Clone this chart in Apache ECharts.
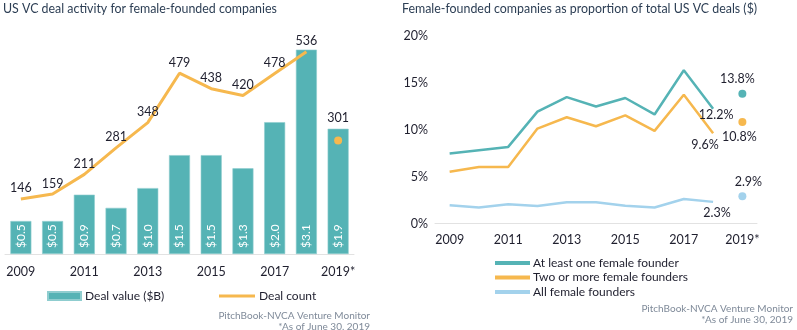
<!DOCTYPE html>
<html>
<head>
<meta charset="utf-8">
<script src="https://cdn.jsdelivr.net/npm/echarts@6/dist/echarts.min.js"></script>
<style>
  html, body { margin: 0; padding: 0; background: #ffffff; }
  #chart { width: 797px; height: 330px; }
</style>
</head>
<body>
<div id="chart"></div>
<script>
// Years shown on both charts; 2019 is a partial year
const years = ['2009', '2010', '2011', '2012', '2013', '2014', '2015', '2016', '2017', '2018', '2019*'];

// Left chart: deal value ($B) and deal count
const dealValue = [0.5, 0.5, 0.9, 0.7, 1.0, 1.5, 1.5, 1.3, 2.0, 3.1, 1.9];
const dealCount = [146, 159, 211, 281, 348, 479, 438, 420, 478, 536, 301];

// Right chart: share of total US VC deal value (%)
const atLeastOne = [7.45, 7.8, 8.15, 11.9, 13.45, 12.45, 13.35, 11.6, 16.3, 12.2, 13.8];
const twoOrMore = [5.5, 6.0, 6.0, 10.1, 11.3, 10.35, 11.5, 9.85, 13.7, 9.6, 10.8];
const allFemale = [1.95, 1.7, 2.05, 1.85, 2.25, 2.25, 1.9, 1.7, 2.6, 2.3, 2.9];

const pctTicks = [0, 5, 10, 15, 20];

const TEAL = '#55b3b5';
const ORANGE = '#f6b84e';
const LIGHTBLUE = '#a3d2ec';
const TEXT = '#1f1f2e';
const TITLE = '#2c3e54';
const NOTE = '#7f8a99';
const FONT = 'Lato, "Open Sans", sans-serif';

const last = years.length - 1;

// Full-year portion drawn as connected lines; partial 2019 drawn as a dot
const lineUntil2018 = arr => arr.map((v, i) => (i < last ? v : '-'));
const dotOnly2019 = arr => arr.map((v, i) => (i === last ? v : '-'));

function lineWithEndLabel(arr, labelCfg) {
  return lineUntil2018(arr).map((v, i) => {
    if (i === last - 1) {
      return { value: v, label: Object.assign({ show: true, formatter: v.toFixed(1) + '%' }, labelCfg) };
    }
    return v;
  });
}
function dotWithLabel(arr, labelCfg) {
  return dotOnly2019(arr).map((v, i) => {
    if (i === last) {
      return { value: v, label: Object.assign({ show: true, formatter: v.toFixed(1) + '%' }, labelCfg) };
    }
    return v;
  });
}

const chart = echarts.init(document.getElementById('chart'), null, { renderer: 'canvas' });

const pctLabelStyle = { color: TEXT, fontSize: 12.5, fontFamily: FONT };

// invisible point markers so that per-point labels can be drawn on a plain line
const hiddenSymbol = { symbol: 'circle', symbolSize: 0.01, showSymbol: true };

chart.setOption({
  animation: false,
  textStyle: { fontFamily: FONT },
  title: [
    { text: 'US VC deal activity for female-founded companies', left: 3, top: 3, padding: 0,
      textStyle: { fontSize: 12.4, fontWeight: 'normal', color: TITLE, fontFamily: FONT } },
    { text: 'Female-founded companies as proportion of total US VC deals ($)', left: 402, top: 3, padding: 0,
      textStyle: { fontSize: 12.4, fontWeight: 'normal', color: TITLE, fontFamily: FONT } }
  ],
  legend: [
    { data: [{ name: 'Deal value ($B)', icon: 'rect' }], left: 47, top: 290, padding: 0, itemWidth: 33, itemHeight: 8,
      textStyle: { fontSize: 12, color: TEXT, fontFamily: FONT, padding: [0, 0, 0, -1] } },
    { data: [{ name: 'Deal count', icon: 'rect' }], left: 219, top: 290, padding: 0, itemWidth: 36, itemHeight: 3,
      textStyle: { fontSize: 12, color: TEXT, fontFamily: FONT, padding: [0, 0, 0, -1] } },
    { data: [
        { name: 'At least one female founder', icon: 'rect' },
        { name: 'Two or more female founders', icon: 'rect' },
        { name: 'All female founders', icon: 'rect' }
      ],
      orient: 'vertical', left: 495, top: 257, padding: 0, itemWidth: 35, itemHeight: 4, itemGap: 2.5,
      textStyle: { fontSize: 12, lineHeight: 12, color: TEXT, fontFamily: FONT, padding: [0, 0, 0, -2] } }
  ],
  grid: [
    { left: 5, top: 20, width: 349, height: 234 },
    { left: 435, top: 35.5, width: 322, height: 188 }
  ],
  xAxis: [
    { type: 'category', gridIndex: 0, data: years,
      axisLine: { lineStyle: { color: '#e2e2e2', width: 1 } }, axisTick: { show: false },
      axisLabel: { interval: 1, color: TEXT, fontSize: 12.5, margin: 11, fontFamily: FONT } },
    { type: 'category', gridIndex: 1, data: years,
      axisLine: { lineStyle: { color: '#e2e2e2', width: 1 } }, axisTick: { show: false },
      axisLabel: { interval: 1, color: TEXT, fontSize: 12.5, margin: 10, fontFamily: FONT } }
  ],
  yAxis: [
    { type: 'value', gridIndex: 0, min: 0, max: 3.55, show: false },
    { type: 'value', gridIndex: 0, min: 0, max: 620, show: false },
    { type: 'value', gridIndex: 1, min: pctTicks[0], max: pctTicks[pctTicks.length - 1], interval: 5,
      axisLine: { show: false }, axisTick: { show: false }, splitLine: { show: false },
      axisLabel: { formatter: '{value}%', color: TEXT, fontSize: 12.5, margin: 7, fontFamily: FONT } }
  ],
  series: [
    { name: 'Deal value ($B)', type: 'bar', xAxisIndex: 0, yAxisIndex: 0, data: dealValue,
      barWidth: 21, itemStyle: { color: TEAL, borderColor: '#8fcdcf', borderWidth: 0.6 },
      label: { show: true, position: 'insideBottom', rotate: 90, align: 'left', verticalAlign: 'middle',
        distance: 6, color: '#ffffff', fontSize: 12, fontFamily: FONT,
        formatter: p => '$' + p.value.toFixed(1) } },
    Object.assign({ name: 'Deal count', type: 'line', xAxisIndex: 0, yAxisIndex: 1, data: lineUntil2018(dealCount),
      lineStyle: { color: ORANGE, width: 3 }, itemStyle: { color: ORANGE },
      label: { show: true, position: 'top', distance: 4, color: TEXT, fontSize: 12.5, fontFamily: FONT } }, hiddenSymbol),
    { name: 'Deal count', type: 'line', xAxisIndex: 0, yAxisIndex: 1, data: dotOnly2019(dealCount),
      symbol: 'circle', symbolSize: 8, showSymbol: true, lineStyle: { width: 0 }, itemStyle: { color: ORANGE },
      label: { show: true, position: 'top', distance: 12, color: TEXT, fontSize: 12.5, fontFamily: FONT } },

    Object.assign({ name: 'At least one female founder', type: 'line', xAxisIndex: 1, yAxisIndex: 2,
      data: lineWithEndLabel(atLeastOne, Object.assign({ position: 'bottom', distance: 0, offset: [3, 0] }, pctLabelStyle)),
      lineStyle: { color: TEAL, width: 2.5 }, itemStyle: { color: TEAL } }, hiddenSymbol),
    Object.assign({ name: 'Two or more female founders', type: 'line', xAxisIndex: 1, yAxisIndex: 2,
      data: lineWithEndLabel(twoOrMore, Object.assign({ position: 'bottom', distance: 5, offset: [-8, 0] }, pctLabelStyle)),
      lineStyle: { color: ORANGE, width: 2.5 }, itemStyle: { color: ORANGE } }, hiddenSymbol),
    Object.assign({ name: 'All female founders', type: 'line', xAxisIndex: 1, yAxisIndex: 2,
      data: lineWithEndLabel(allFemale, Object.assign({ position: 'bottom', distance: 5, offset: [4, 0] }, pctLabelStyle)),
      lineStyle: { color: LIGHTBLUE, width: 2.5 }, itemStyle: { color: LIGHTBLUE } }, hiddenSymbol),

    { name: 'At least one female founder', type: 'line', xAxisIndex: 1, yAxisIndex: 2,
      data: dotWithLabel(atLeastOne, Object.assign({ position: 'top', distance: 4, offset: [-5, 0] }, pctLabelStyle)),
      symbol: 'circle', symbolSize: 8, showSymbol: true, lineStyle: { width: 0 }, itemStyle: { color: TEAL } },
    { name: 'Two or more female founders', type: 'line', xAxisIndex: 1, yAxisIndex: 2,
      data: dotWithLabel(twoOrMore, Object.assign({ position: 'bottom', distance: 4, offset: [-3, 0] }, pctLabelStyle)),
      symbol: 'circle', symbolSize: 8, showSymbol: true, lineStyle: { width: 0 }, itemStyle: { color: ORANGE } },
    { name: 'All female founders', type: 'line', xAxisIndex: 1, yAxisIndex: 2,
      data: dotWithLabel(allFemale, Object.assign({ position: 'top', distance: 4, offset: [6, 0] }, pctLabelStyle)),
      symbol: 'circle', symbolSize: 8, showSymbol: true, lineStyle: { width: 0 }, itemStyle: { color: LIGHTBLUE } }
  ],
  graphic: [
    { type: 'text', right: 797 - 370, top: 311,
      style: { text: 'PitchBook-NVCA Venture Monitor', fill: NOTE, font: '10px ' + FONT, textAlign: 'right' } },
    { type: 'text', right: 797 - 370, top: 322,
      style: { text: '*As of June 30, 2019', fill: NOTE, font: '10px ' + FONT, textAlign: 'right' } },
    { type: 'text', right: 4, top: 304,
      style: { text: 'PitchBook-NVCA Venture Monitor', fill: NOTE, font: '10px ' + FONT, textAlign: 'right' } },
    { type: 'text', right: 4, top: 315,
      style: { text: '*As of June 30, 2019', fill: NOTE, font: '10px ' + FONT, textAlign: 'right' } }
  ]
});
</script>
</body>
</html>
